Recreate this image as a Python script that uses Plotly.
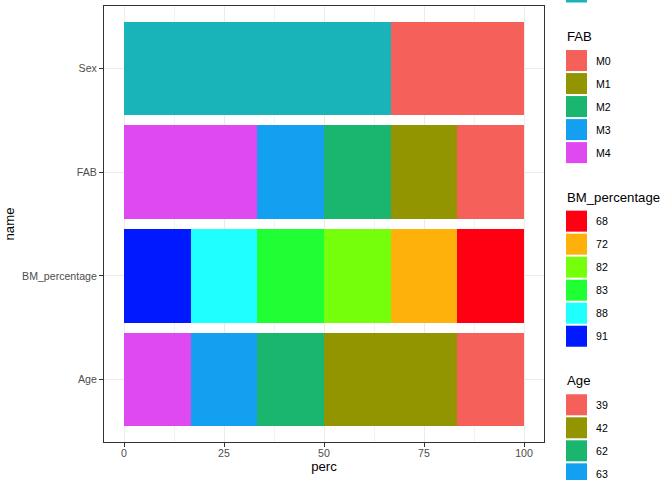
import plotly.graph_objects as go

# ---- data ----
names = ["Age", "BM_percentage", "FAB", "Sex"]          # y categories, bottom to top

sex_levels = ["F", "M"]
sex_colors = ["#F5605B", "#19B4BA"]
sex_perc = [33.333, 66.667]

fab_levels = ["M0", "M1", "M2", "M3", "M4"]
fab_colors = ["#F5605B", "#939500", "#1AB56E", "#14A0F0", "#DF49F0"]
fab_perc = [16.667, 16.667, 16.667, 16.667, 33.333]

bm_levels = ["68", "72", "82", "83", "88", "91"]
bm_colors = ["#FF0012", "#FFB10B", "#76FF0A", "#1FFF33", "#1FFFFF", "#0019FF"]
bm_perc = [16.667, 16.667, 16.667, 16.667, 16.667, 16.667]

age_levels = ["39", "42", "62", "63", "71"]
age_colors = ["#F5605B", "#939500", "#1AB56E", "#14A0F0", "#DF49F0"]
age_perc = [16.667, 33.333, 16.667, 16.667, 16.667]

x_ticks = [0, 25, 50, 75, 100]

groups = [
    ("Sex", sex_levels, sex_colors, sex_perc),
    ("FAB", fab_levels, fab_colors, fab_perc),
    ("BM_percentage", bm_levels, bm_colors, bm_perc),
    ("Age", age_levels, age_colors, age_perc),
]

FONT = "Liberation Sans, Arial, Helvetica, sans-serif"
TICK_SIZE = 10.6
TITLE_SIZE = 13.2

fig = go.Figure()
for gname, levels, colors, percs in groups:
    # first level sits at the right end of the bar -> add in reverse order
    for lev, col, p in reversed(list(zip(levels, colors, percs))):
        fig.add_trace(go.Bar(
            x=[p], y=[gname], orientation="h",
            marker=dict(color=col, line=dict(width=0)),
            name=f"{gname}: {lev}", showlegend=False,
            hovertemplate=f"{gname} {lev}: %{{x:.1f}}<extra></extra>",
        ))

# ---- layout geometry (pixels) ----
W, H = 672, 480
L, R, T, B = 104, 544, 6, 441.7
pw, ph = R - L, B - T

def px_x(x):
    return (x - L) / pw

def px_y(y):
    return (B - y) / ph

def visible(yc, half):
    # the legend runs past the window, as in the reference; skip text that is wholly outside
    return yc + half > 0 and yc - half < H

shapes = []
annotations = []
y = -55.0
for gname, levels, colors, percs in groups:
    if visible(y, 6):
        annotations.append(dict(
            x=px_x(565), y=px_y(y), xref="paper", yref="paper",
            text=gname, showarrow=False, xanchor="left", yanchor="middle",
            font=dict(family=FONT, size=TITLE_SIZE, color="#000000")))
    top = y + 13.5
    for i, (lev, col) in enumerate(zip(levels, colors)):
        y0 = top + i * 23
        shapes.append(dict(
            type="rect", xref="paper", yref="paper",
            x0=px_x(566), x1=px_x(587), y0=px_y(y0), y1=px_y(y0 + 21),
            fillcolor=col, line=dict(width=0), layer="above"))
        if visible(y0 + 10.5, 6):
            annotations.append(dict(
                x=px_x(594), y=px_y(y0 + 10.5), xref="paper", yref="paper",
                text=lev, showarrow=False, xanchor="left", yanchor="middle",
                font=dict(family=FONT, size=TICK_SIZE, color="#000000")))
    y = top + (len(levels) - 1) * 23 + 21 + 34

fig.update_layout(
    width=W, height=H,
    margin=dict(l=L, r=W - R, t=T, b=H - B, pad=0, autoexpand=False),
    paper_bgcolor="white", plot_bgcolor="white",
    barmode="stack", bargap=0.1,
    font=dict(family=FONT, color="#4D4D4D"),
    shapes=shapes, annotations=annotations,
    showlegend=False,
)
fig.update_xaxes(
    automargin=False,
    range=[-5, 105], tickvals=x_ticks, ticktext=[str(v) for v in x_ticks],
    ticks="outside", ticklen=4, tickwidth=1, tickcolor="#333333",
    ticklabelstandoff=-3,
    tickfont=dict(family=FONT, size=TICK_SIZE, color="#4D4D4D"),
    showgrid=True, gridcolor="#EBEBEB", gridwidth=1,
    minor=dict(tickvals=[12.5, 37.5, 62.5, 87.5], showgrid=True,
               gridcolor="#F2F2F2", gridwidth=0.6, ticks=""),
    zeroline=False, showline=True, mirror=True,
    linecolor="#333333", linewidth=1,
    title=dict(text="perc", standoff=2,
               font=dict(family=FONT, size=TITLE_SIZE, color="#000000")),
)
fig.update_yaxes(
    automargin=False,
    type="category", categoryorder="array", categoryarray=names,
    range=[-0.6, 3.6],
    ticks="outside", ticklen=4, tickwidth=1, tickcolor="#333333",
    tickfont=dict(family=FONT, size=TICK_SIZE, color="#4D4D4D"),
    showgrid=True, gridcolor="#EBEBEB", gridwidth=1,
    zeroline=False, showline=True, mirror=True,
    linecolor="#333333", linewidth=1,
    title=dict(text="name", standoff=4,
               font=dict(family=FONT, size=TITLE_SIZE, color="#000000")),
)

fig.write_html("out.html", config={"displayModeBar": False},
               post_script="document.body.style.margin='0';document.body.style.padding='0';")
